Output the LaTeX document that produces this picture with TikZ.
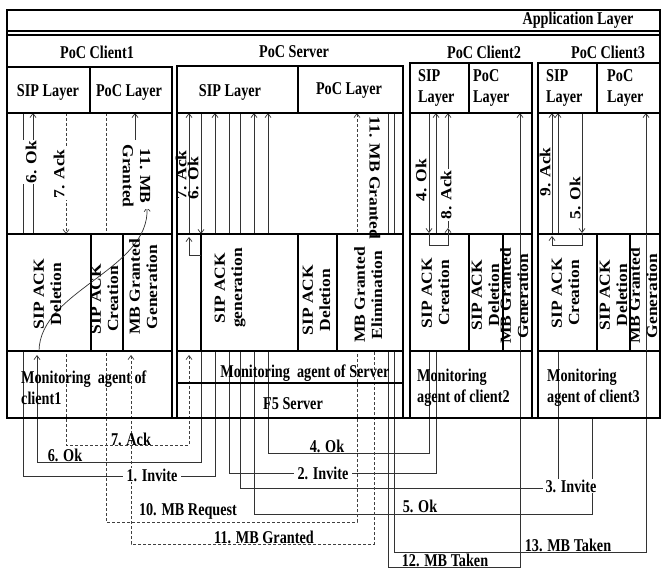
\documentclass[tikz,border=0pt]{standalone}
\usepackage{fontspec}
\setmainfont{Liberation Serif}[FakeStretch=0.79]
\newfontfamily\rotfont{Liberation Serif}
\usetikzlibrary{arrows.meta}
\newcommand{\rlab}[1]{\scalebox{1}[0.88]{\rotfont\bfseries\fontsize{17.5}{19.5}\selectfont\begin{tabular}{@{}c@{}}#1\end{tabular}}}
\begin{document}
\begin{tikzpicture}[x=1pt,y=-1pt,
  box/.style={line width=1.6pt},
  sig/.style={line width=0.7pt, black!80},
  dsig/.style={line width=0.7pt, black!75, dash pattern=on 3pt off 2pt},
  tip/.style={-{Straight Barb[length=4pt,width=6pt]}},
  txt/.style={font=\bfseries\fontsize{18}{21}\selectfont, inner sep=1pt},
  rtxt/.style={rotate=90, inner sep=0pt},
  ltxt/.style={rotate=-90, inner sep=0pt}]
\useasboundingbox (0,0) rectangle (663,569);
\fill[white] (0,0) rectangle (663,569);

% ---------- signal paths ----------
% 1. Invite
\draw[sig,tip] (23,113) |- (215,476) -- (215,113);
% 2. Invite
\draw[sig,tip] (229,113) |- (436,473) -- (436,113);
% 3. Invite
\draw[sig,tip] (240,113) |- (558,488) -- (558,113);
% 4. Ok
\draw[sig,tip] (429,113) -- (429,233);
\draw[sig,tip] (429,233) |- (268,453) -- (268,113);
% 5. Ok
\draw[sig,tip] (582,113) -- (582,233);
\draw[sig,tip] (592,418) |- (254,514) -- (254,113);
% 6. Ok
\draw[sig,tip] (201,113) -- (201,234);
\draw[sig,tip] (201,234) |- (37,462) -- (37,355);
\draw[sig,tip] (33,234) -- (33,113);
% 7. Ack
\draw[dsig,tip] (66,113) -- (66,234);
\draw[dsig,tip] (66,234) |- (189,445) -- (189,355);
\draw[sig,tip] (189,234) -- (189,113);
% 8. Ack
\draw[sig,tip] (448,228) -- (448,113);
% 9. Ack
\draw[sig,tip] (552,236) -- (552,113);
% 10. MB Request
\draw[dsig,tip] (106,113) |- (357,522) -- (357,113);
% 11. MB Granted
\draw[dsig,tip] (374,352) |- (131,544) -- (131,355);
\draw[sig,tip] (135,140) -- (135,113);
% 12. / 13. MB Taken
\draw[sig,tip] (388,113) |- (520,567) -- (520,113);
\draw[sig,tip] (394,113) |- (646,552) -- (646,113);

% ---------- lower function boxes ----------
\begin{scope}[box]
\draw[fill=white] (7,234) rectangle (91,351);
\draw[fill=white] (91,234) rectangle (123,351);
\draw[fill=white] (123,234) rectangle (172,351);
\draw[fill=white] (177,234) rectangle (201,351);
\draw[fill=white] (201,234) rectangle (298,351);
\draw[fill=white] (298,234) rectangle (337,351);
\draw[fill=white] (337,234) rectangle (403,351);
\draw[fill=white] (410,234) rectangle (469,351);
\draw[fill=white] (469,234) rectangle (503,351);
\draw[fill=white] (503,234) rectangle (532,351);
\draw[fill=white] (538,234) rectangle (597,351);
\draw[fill=white] (597,234) rectangle (630,351);
\draw[fill=white] (630,234) rectangle (660,351);
\end{scope}

% lines drawn over the lower boxes
\draw[sig] (520,234) -- (520,351);
\draw[sig] (646,234) -- (646,351);
\draw[sig,tip] (201,255) -| (189,237);
\draw[sig,tip] (429,233) |- (448,245) -- (448,228);
\draw[sig,tip] (582,233) |- (552,245) -- (552,236);
\draw[sig,tip] (39,351) .. controls (40,290) and (150,270) .. (147,207);

% ---------- frames ----------
\draw[box] (7,10) rectangle (660,418);
\draw[box] (7,31) -- (660,31);
\draw[box] (7,35) -- (660,35);
% client1
\draw[box] (7,67) rectangle (172,418);
\draw[box] (7,113) -- (172,113);
\draw[box] (90,67) -- (90,113);
% server
\draw[box] (177,66) rectangle (403,418);
\draw[box] (177,113) -- (403,113);
\draw[box] (298,66) -- (298,113);
\draw[box] (177,383) -- (403,383);
% client2
\draw[box] (410,63) rectangle (532,418);
\draw[box] (410,113) -- (532,113);
\draw[box] (469,63) -- (469,113);
% client3
\draw[box] (538,63) rectangle (660,418);
\draw[box] (538,113) -- (660,113);
\draw[box] (597,63) -- (597,113);

% ---------- texts ----------
\node[txt] (app) at (578,20) {Application Layer};
\node[txt] (t1) at (97,52) {PoC Client1};
\node[txt] (t2) at (294,52) {PoC Server};
\node[txt] (t3) at (484,52) {PoC Client2};
\node[txt] (t4) at (608,52) {PoC Client3};

\node[txt] (s1) at (48,92) {SIP Layer};
\node[txt] (p1) at (129,92) {PoC Layer};
\node[txt] (s2) at (230,92) {SIP Layer};
\node[txt] (p2) at (349,90) {PoC Layer};
\node[txt, anchor=west, align=left] (s3) at (417,88) {SIP\\Layer};
\node[txt, anchor=west, align=left] (p3) at (472,88) {PoC\\Layer};
\node[txt, anchor=west, align=left] (s4) at (545,88) {SIP\\Layer};
\node[txt, anchor=west, align=left] (p4) at (606,88) {PoC\\Layer};

% middle labels
\node[rtxt, fill=white, inner sep=1pt] (l6a) at (33,162) {\rlab{6. Ok}};
\node[rtxt, fill=white, inner sep=1pt] (l7a) at (61,174) {\rlab{7. Ack}};
\node[ltxt, fill=white, inner sep=1pt] (l11a) at (135,176) {\rlab{11. MB\\Granted}};
\node[rtxt] (l7b) at (183,175) {\rlab{7. Ack}};
\node[rtxt] (l6b) at (195,178) {\rlab{6. Ok}};
\node[ltxt] (l11b) at (373,178) {\rlab{11. MB Granted}};
\node[rtxt] (l4) at (423,180) {\rlab{4. Ok}};
\node[rtxt, fill=white, inner sep=1pt] (l8) at (448,195) {\rlab{8. Ack}};
\node[rtxt] (l9) at (547,172) {\rlab{9. Ack}};
\node[rtxt] (l5) at (577,198) {\rlab{5. Ok}};

% function labels
\node[rtxt] (f1) at (49,294) {\rlab{SIP ACK\\Deletion}};
\node[rtxt] (f2) at (106,299) {\rlab{SIP ACK\\Creation}};
\node[rtxt] (f3) at (145,287) {\rlab{MB Granted\\Generation}};
\node[rtxt] (f4) at (230,288) {\rlab{SIP ACK\\generation}};
\node[rtxt] (f5) at (318,300) {\rlab{SIP ACK\\Deletion}};
\node[rtxt] (f6) at (370,295) {\rlab{MB Granted\\Elimination}};
\node[rtxt] (f7) at (437,293) {\rlab{SIP ACK\\Creation}};
\node[rtxt] (f8) at (487,295) {\rlab{SIP ACK\\Deletion}};
\node[rtxt] (f9) at (516,296) {\rlab{MB Granted\\Generation}};
\node[rtxt] (f10) at (567,293) {\rlab{SIP ACK\\Creation}};
\node[rtxt] (f11) at (615,295) {\rlab{SIP ACK\\Deletion}};
\node[rtxt] (f12) at (645,296) {\rlab{MB Granted\\Generation}};

% monitoring
\node[txt, anchor=west, align=left] (m1) at (20,388) {Monitoring\ \ agent of\\client1};
\node[txt] (m2) at (305,373) {Monitoring\ \ agent of Server};
\node[txt] (f5s) at (293,404) {F5 Server};
\node[txt, anchor=west, align=left] (m3) at (416,388) {Monitoring\\agent of client2};
\node[txt, anchor=west, align=left] (m4) at (546,388) {Monitoring\\agent of client3};

% bottom labels
\node[txt] (b7) at (131,439) {7. Ack};
\node[txt] (b6) at (65,455) {6. Ok};
\node[txt, fill=white, inner xsep=4pt] (b1) at (152,475) {1. Invite};
\node[txt, fill=white, inner xsep=4pt] (b2) at (323,473) {2. Invite};
\node[txt] (b4) at (327,446) {4. Ok};
\node[txt, fill=white, inner xsep=3pt] (b3) at (571,486) {3. Invite};
\node[txt] (b10) at (188,511) {10. MB Request};
\node[txt] (b5) at (420,506) {5. Ok};
\node[txt] (b11) at (264,537) {11. MB Granted};
\node[txt] (b13) at (568,545) {13. MB Taken};
\node[txt] (b12) at (445,560) {12. MB Taken};
\end{tikzpicture}
\end{document}
